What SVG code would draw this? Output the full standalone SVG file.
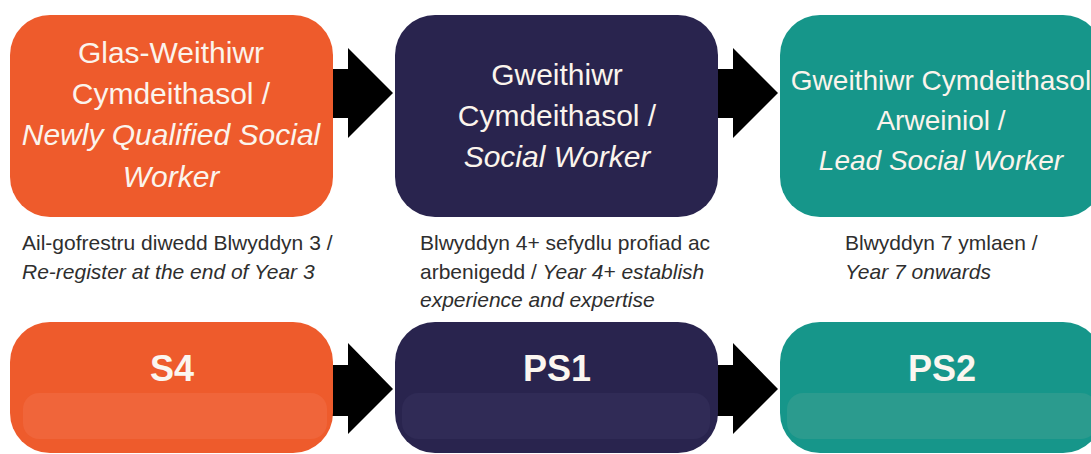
<svg xmlns="http://www.w3.org/2000/svg" width="1091" height="454" viewBox="0 0 1091 454">
<defs>
<style>
.t{font-family:"Liberation Sans",Arial,sans-serif;fill:#fbf4ec;text-anchor:middle}
.tb{font-size:30px}
.t3{font-size:28px}
.lab{font-family:"Liberation Sans",Arial,sans-serif;font-weight:bold;font-size:36px;fill:#fbf6f0;text-anchor:middle}
.cap{font-family:"Liberation Sans",Arial,sans-serif;font-size:21px;fill:#2e2e2e}
.i{font-style:italic}
.arr{fill:#000}
.or{fill:#ee5b2c}
.orb{fill:#f0653a}
.nv{fill:#29244e}
.nvb{fill:#302b56}
.tl{fill:#16968a}
.tlb{fill:#2b9b8e}
</style>
</defs>
<rect width="1091" height="454" fill="#ffffff"/>
<g id="connectors">
<path class="arr" d="M330,69 H348 V48 L393,93 L348,138 V118 H330 Z"/>
<path class="arr" d="M715,69 H733 V48 L778,93 L733,138 V118 H715 Z"/>
<path class="arr" d="M330,365 H348 V343 L393,389 L348,434 V416 H330 Z"/>
<path class="arr" d="M715,365 H733 V343 L778,389 L733,434 V416 H715 Z"/>
</g>
<g id="node-nqsw">
<rect class="or" x="10" y="15" width="323" height="202" rx="40"/>
<text class="t tb" x="171" y="63">Glas-Weithiwr</text>
<text class="t tb" x="171" y="104">Cymdeithasol /</text>
<text class="t tb i" x="171" y="145">Newly Qualified Social</text>
<text class="t tb i" x="171" y="187">Worker</text>
</g>
<g id="node-sw">
<rect class="nv" x="395" y="15" width="323" height="202" rx="40"/>
<text class="t tb" x="557" y="85">Gweithiwr</text>
<text class="t tb" x="557" y="126">Cymdeithasol /</text>
<text class="t tb i" x="557" y="167">Social Worker</text>
</g>
<g id="node-lsw">
<rect class="tl" x="780" y="15" width="323" height="202" rx="40"/>
<text class="t t3" x="941" y="90">Gweithiwr Cymdeithasol</text>
<text class="t t3" x="941" y="130">Arweiniol /</text>
<text class="t t3 i" x="941" y="170">Lead Social Worker</text>
</g>
<g id="caption-1">
<text class="cap" x="22" y="250">Ail-gofrestru diwedd Blwyddyn 3 /</text>
<text class="cap i" x="22" y="279">Re-register at the end of Year 3</text>
</g>
<g id="caption-2">
<text class="cap" x="420" y="250">Blwyddyn 4+ sefydlu profiad ac</text>
<text class="cap" x="420" y="279">arbenigedd / <tspan class="i">Year 4+ establish</tspan></text>
<text class="cap i" x="420" y="307">experience and expertise</text>
</g>
<g id="caption-3">
<text class="cap" x="845" y="250">Blwyddyn 7 ymlaen /</text>
<text class="cap i" x="845" y="279">Year 7 onwards</text>
</g>
<g id="node-s4">
<rect class="or" x="10" y="322" width="323" height="131" rx="40"/>
<rect class="orb" x="23" y="393" width="304" height="46" rx="16"/>
<text class="lab" x="172" y="381">S4</text>
</g>
<g id="node-ps1">
<rect class="nv" x="395" y="322" width="323" height="131" rx="40"/>
<rect class="nvb" x="402" y="393" width="308" height="46" rx="16"/>
<text class="lab" x="557" y="381">PS1</text>
</g>
<g id="node-ps2">
<rect class="tl" x="780" y="322" width="323" height="131" rx="40"/>
<rect class="tlb" x="787" y="393" width="310" height="46" rx="16"/>
<text class="lab" x="942" y="381">PS2</text>
</g>
</svg>
